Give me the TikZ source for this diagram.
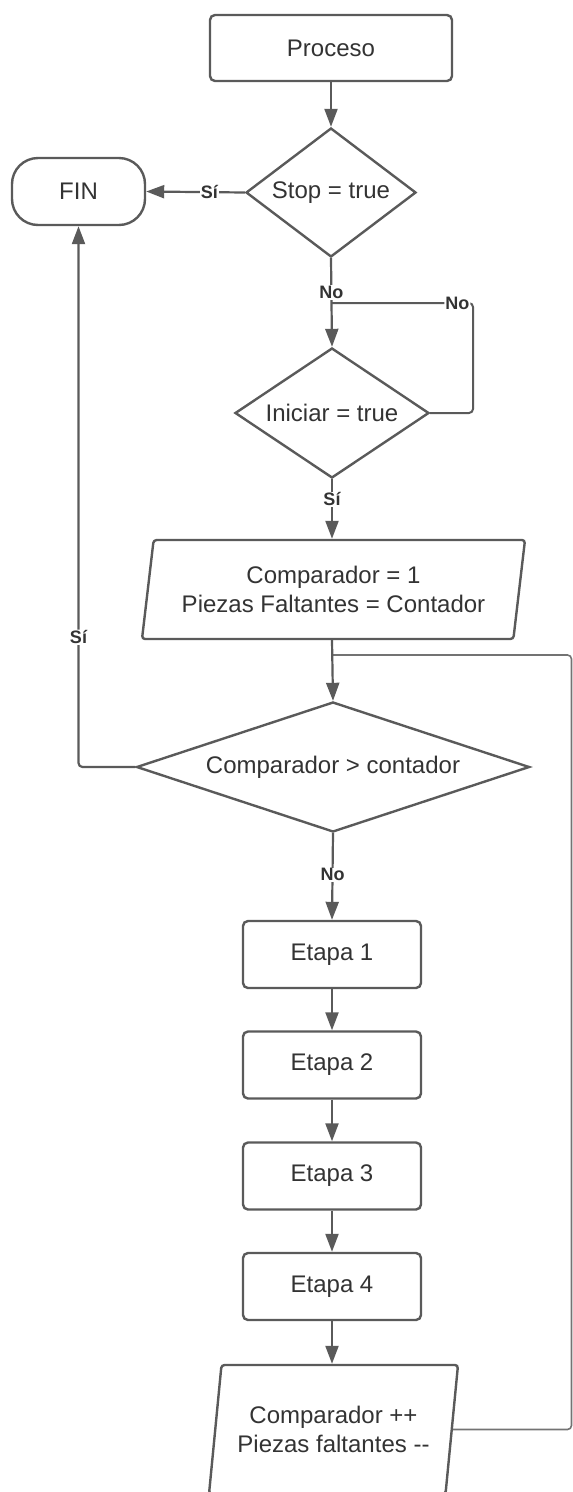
\documentclass[tikz,border=0pt]{standalone}
\usepackage{fontspec}
\setmainfont{Liberation Sans}
\usetikzlibrary{shapes.geometric,arrows.meta}
\definecolor{ln}{HTML}{5A5A5A}
\definecolor{tx}{HTML}{333333}
\tikzset{
  base/.style={draw=ln, line width=2.4pt, text=tx, font=\fontsize{24}{29}\selectfont, align=center, inner sep=0pt},
  boxst/.style={base, rectangle, rounded corners=5pt, minimum width=178pt, minimum height=67pt},
  dec/.style={base, diamond},
  io/.style={base, trapezium, trapezium left angle=76, trapezium right angle=104, trapezium stretches body, rounded corners=3pt},
  conn/.style={draw=ln, line width=2.2pt, -{Triangle[length=18pt,width=13pt]}},
  plain/.style={draw=ln, line width=2pt, rounded corners=4pt},
  thin/.style={draw=ln!85, line width=1.6pt, rounded corners=4pt},
  lbl/.style={fill=white, text=tx, font=\bfseries\fontsize{18}{20}\selectfont, inner sep=1pt}
}
\begin{document}
\begin{tikzpicture}[x=1pt,y=-1pt]
\useasboundingbox (0,0) rectangle (573,1492);
\node[boxst, minimum width=242pt, minimum height=66pt] (proc) at (331,48) {Proceso};
\node[dec, aspect=1.32, minimum width=170pt, minimum height=129pt] (stop) at (331,192.5) {Stop = true};
\node[base, rectangle, rounded corners=26pt, minimum width=133pt, minimum height=67pt] (fin) at (78.5,191.5) {FIN};
\node[dec, aspect=1.49, minimum width=194pt, minimum height=130pt] (ini) at (332,413) {Iniciar = true};
\node[io, minimum width=383pt, minimum height=99pt] (p1) at (333.5,589.5) {Comparador = 1\\Piezas Faltantes = Contador};
\node[dec, aspect=3.02, minimum width=393pt, minimum height=130pt] (comp) at (333,767) {Comparador > contador};
\node[boxst] (e1) at (332,954.5) {Etapa 1};
\node[boxst] (e2) at (332,1065) {Etapa 2};
\node[boxst] (e3) at (332,1176) {Etapa 3};
\node[boxst] (e4) at (332,1286.5) {Etapa 4};
\node[io, trapezium left angle=75, trapezium right angle=105, minimum width=249pt, minimum height=129pt] (p2) at (333.5,1429.5) {Comparador ++\\Piezas faltantes -{}-};
\coordinate (rx) at (571.5,655);
\coordinate (ix) at (473,303);
% connectors
\draw[conn] (proc.south) -- (proc.south |- stop.north);
\draw[conn] (stop.west) -- node[lbl, pos=0.36]{Sí} (fin.east);
\draw[plain] (ini.east) -- (ini.east -| ix) -- (ix) -- node[lbl, pos=0.11]{No} (ix -| stop.south);
\draw[conn] (stop.south) -- node[lbl, pos=0.385]{No} (ini.north);
\draw[conn] (ini.south) -- node[lbl, pos=0.34]{Sí} (ini.south |- p1.north);
\draw[thin] (p2.east) -- (p2.east -| rx) -- (rx) -- (rx -| comp.north);
\draw[conn] (ini.south |- p1.south) -- (comp.north);
\draw[conn, rounded corners=4pt] (comp.west) -- (comp.west -| fin.south) -- node[lbl, pos=0.24]{Sí} (fin.south);
\draw[conn] (comp.south) -- node[lbl, pos=0.48]{No} (e1.north);
\draw[conn] (e1.south) -- (e2.north);
\draw[conn] (e2.south) -- (e3.north);
\draw[conn] (e3.south) -- (e4.north);
\draw[conn] (e4.south) -- (e4.south |- p2.north);
\end{tikzpicture}
\end{document}
